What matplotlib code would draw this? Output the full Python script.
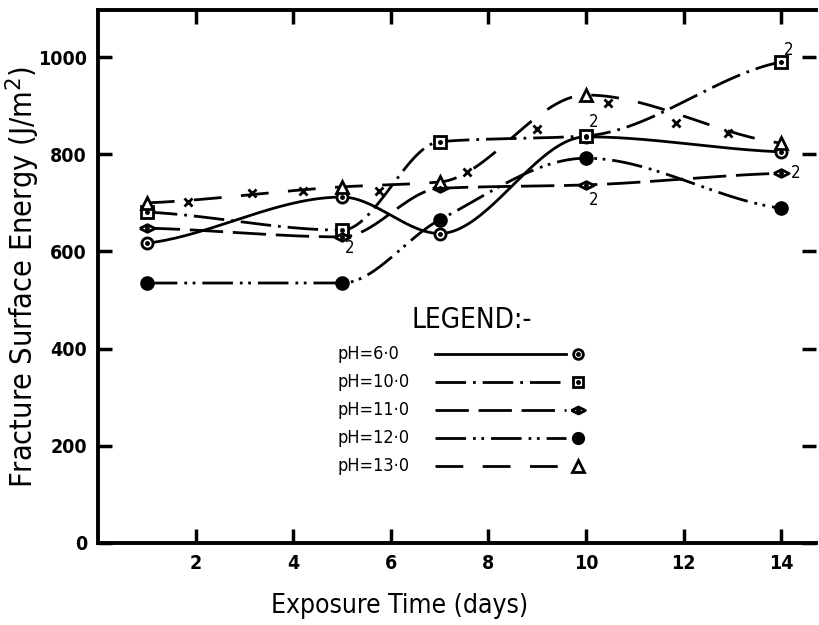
import matplotlib
matplotlib.use("Agg")
import matplotlib.pyplot as plt
import numpy as np

days = [1, 5, 7, 10, 14]
ph6 = [617, 712, 637, 836, 805]
ph10 = [681, 644, 826, 838, 990]
ph11 = [648, 630, 730, 737, 761]
ph12 = [535, 535, 665, 792, 689]
ph13 = [700, 733, 743, 922, 823]

# the little x marks drawn along the pH 13 curve
x_days = [1.85, 3.15, 4.2, 5.75, 7.55, 9.0, 10.45, 11.85, 12.9]
x_vals = [702, 720, 725, 725, 764, 852, 905, 864, 843]

# "2" = two coincident points
dup_days = [14.15, 5.15, 10.15, 10.15, 14.3]
dup_vals = [1014, 607, 866, 706, 761]

legend_labels = ["pH=6·0", "pH=10·0", "pH=11·0", "pH=12·0", "pH=13·0"]

FONT = dict(family="DejaVu Sans", stretch="condensed")


def smooth(x, y, n=200):
    # monotone cubic (pchip) - only used to draw the smooth curves
    x = np.asarray(x, float)
    y = np.asarray(y, float)
    h = np.diff(x)
    delta = np.diff(y) / h
    m = np.zeros(len(x))
    for i in range(1, len(x) - 1):
        if delta[i - 1] * delta[i] > 0:
            w1 = 2 * h[i] + h[i - 1]
            w2 = h[i] + 2 * h[i - 1]
            m[i] = (w1 + w2) / (w1 / delta[i - 1] + w2 / delta[i])
    m[0] = delta[0] * 0.5
    m[-1] = delta[-1] * 0.5
    xs = np.linspace(x[0], x[-1], n)
    ys = np.empty_like(xs)
    for j, t in enumerate(xs):
        i = min(np.searchsorted(x, t, side="right") - 1, len(x) - 2)
        s = (t - x[i]) / h[i]
        h00 = 2 * s ** 3 - 3 * s ** 2 + 1
        h10 = s ** 3 - 2 * s ** 2 + s
        h01 = -2 * s ** 3 + 3 * s ** 2
        h11 = s ** 3 - s ** 2
        ys[j] = h00 * y[i] + h10 * h[i] * m[i] + h01 * y[i + 1] + h11 * h[i] * m[i + 1]
    return xs, ys


eye = [(-1, 0), (0, 0.5), (1, 0), (0, -0.5), (-1, 0)]
styles = [
    (ph6, "-", "o", "white", True, 8),
    (ph10, (0, (11, 2.5, 1, 2.5)), "s", "white", True, 8),
    (ph11, (0, (12, 3.5)), eye, "white", True, 11),
    (ph12, (0, (11, 2.5, 1, 2, 1, 2.5)), "o", "black", False, 8.5),
    (ph13, (0, (10, 7)), "^", "white", False, 9),
]

fig = plt.figure(figsize=(8.2, 6.25), dpi=100)
ax = fig.add_axes([98 / 820, 1 - 543 / 625, (816 - 98) / 820, (543 - 10) / 625])

for vals, ls, mk, fc, dot, ms in styles:
    xs, ys = smooth(days, vals)
    ax.plot(xs, ys, color="black", lw=2.0, linestyle=ls, zorder=2)
    ax.plot(days, vals, linestyle="none", marker=mk, ms=ms,
            mfc=fc, mec="black", mew=2.0, zorder=3)
    if dot:
        ax.plot(days, vals, linestyle="none", marker="o", ms=2.5, color="black", zorder=4)

ax.plot(x_days, x_vals, linestyle="none", marker="x", ms=6, mew=2, color="black", zorder=3)

for d, v in zip(dup_days, dup_vals):
    ax.text(d, v, "2", fontsize=12, ha="center", va="center", **FONT)

# hand-drawn legend block
ax.text(0.437, 0.418, "LEGEND:-", transform=ax.transAxes, fontsize=20,
        ha="left", va="center", **FONT)
for i, (lab, (vals, ls, mk, fc, dot, ms)) in enumerate(zip(legend_labels, styles)):
    yy = 0.354 - i * 0.0525
    ax.text(0.333, yy, lab, transform=ax.transAxes, fontsize=13,
            ha="left", va="center", **FONT)
    ax.plot([0.47, 0.652], [yy, yy], transform=ax.transAxes, color="black",
            lw=2.0, linestyle=ls)
    ax.plot([0.669], [yy], transform=ax.transAxes, linestyle="none", marker=mk,
            ms=ms - 1, mfc=fc, mec="black", mew=2.0)
    if dot:
        ax.plot([0.669], [yy], transform=ax.transAxes, linestyle="none",
                marker="o", ms=2.5, color="black")

ax.set_xlim(0, 14.71)
ax.set_ylim(0, 1097)
ax.set_xticks([2, 4, 6, 8, 10, 12, 14])
ax.set_yticks([0, 200, 400, 600, 800, 1000])
for lab in ax.get_xticklabels() + ax.get_yticklabels():
    lab.set_fontsize(14)
    lab.set_fontweight("bold")
    lab.set_fontstretch("condensed")
ax.tick_params(direction="in", length=10, width=2.5, top=True, right=True, pad=8)
for s in ["left", "bottom", "top"]:
    ax.spines[s].set_linewidth(2.8)
ax.spines["right"].set_visible(False)

ax.set_xlabel("Exposure Time (days)", fontsize=19, **FONT)
ax.xaxis.set_label_coords(0.42, -0.093)
ax.set_ylabel("Fracture Surface Energy (J/m$^2$)", fontsize=22, **FONT)
ax.yaxis.set_label_coords(-0.078, 0.5)

fig.savefig("out.png", dpi=100)
